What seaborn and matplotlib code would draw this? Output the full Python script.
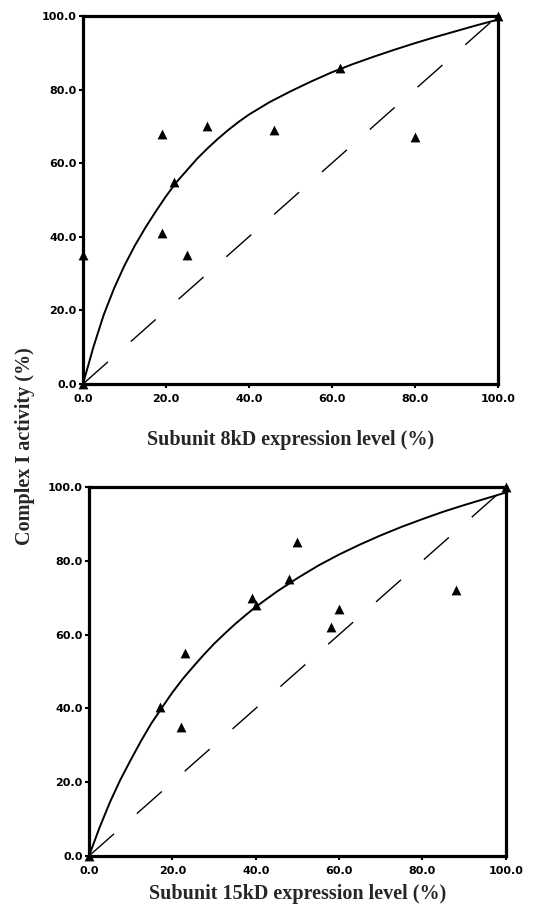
import numpy as np
import pandas as pd
import matplotlib
matplotlib.use("Agg")
import matplotlib.pyplot as plt
import seaborn as sns

# measured points, subunit 8kD
x_8kd = [0, 0, 19, 19, 22, 25, 30, 46, 62, 80, 100]
y_8kd = [0, 35, 68, 41, 55, 35, 70, 69, 86, 67, 100]

# measured points, subunit 15kD
x_15kd = [0, 17, 22, 23, 39, 40, 48, 50, 58, 60, 88, 100]
y_15kd = [0, 40.5, 35, 55, 70, 68, 75, 85, 62, 67, 72, 100]

# fitted curves
curve_x = [0, 2.5, 5, 7.5, 10, 12.5, 15, 17.5, 20, 22.5, 25, 27.5, 30,
           32.5, 35, 37.5, 40, 45, 50, 55, 60, 65, 70, 75, 80, 85, 90, 95, 100]
curve_8kd = [0, 10, 18.8, 26, 32.2, 37.6, 42.4, 46.8, 51, 54.8, 58, 61.2, 64,
             66.6, 69, 71.2, 73.2, 76.6, 79.5, 82.2, 84.7, 86.9, 88.9, 90.8,
             92.6, 94.3, 95.9, 97.5, 99]
curve_15kd = [0, 7.6, 14.5, 20.6, 26, 31.2, 36, 40.2, 44.3, 48, 51.3, 54.5, 57.5,
              60.2, 62.8, 65.2, 67.5, 71.6, 75.3, 78.7, 81.7, 84.4, 86.9, 89.2,
              91.3, 93.3, 95.1, 96.8, 98.5]

# identity line
diag = [0, 100]

ticks = [0, 20, 40, 60, 80, 100]
tick_labels = ["0.0", "20.0", "40.0", "60.0", "80.0", "100.0"]

xlabels = ["Subunit 8kD expression level (%)", "Subunit 15kD expression level (%)"]

sns.set_style("ticks")
plt.rcParams['font.family'] = ['DejaVu Sans']
serif = ["Liberation Serif", "DejaVu Serif"]

fig = plt.figure(figsize=(5.4, 9.14), dpi=100)
ax1 = fig.add_axes([0.1537, 0.5799, 0.768, 0.4026])
ax2 = fig.add_axes([0.1648, 0.0635, 0.772, 0.4037])

panels = [
    (ax1, x_8kd, y_8kd, curve_8kd, xlabels[0], 19),
    (ax2, x_15kd, y_15kd, curve_15kd, xlabels[1], 6),
]

for ax, px, py, cy, xl, pad in panels:
    df_pts = pd.DataFrame({"x": px, "y": py})
    df_fit = pd.DataFrame({"x": curve_x, "y": cy})
    df_diag = pd.DataFrame({"x": diag, "y": diag})

    sns.lineplot(data=df_diag, x="x", y="y", ax=ax, color="black",
                 linewidth=1.0, linestyle=(0, (24, 22)), estimator=None, sort=False)
    sns.lineplot(data=df_fit, x="x", y="y", ax=ax, color="black",
                 linewidth=1.4, estimator=None)
    sns.scatterplot(data=df_pts, x="x", y="y", ax=ax, color="black",
                    marker="^", s=50, linewidth=0, clip_on=False, zorder=5)

    ax.set_xlim(0, 100)
    ax.set_ylim(0, 100)
    ax.set_xticks(ticks)
    ax.set_yticks(ticks)
    ax.set_xticklabels(tick_labels, fontsize=8, fontweight="bold")
    ax.set_yticklabels(tick_labels, fontsize=8, fontweight="bold")
    ax.tick_params(direction="out", length=3, width=1.5, colors="black")
    ax.tick_params(axis="x", pad=4)
    ax.tick_params(axis="y", pad=1.5)
    for s in ax.spines.values():
        s.set_visible(True)
        s.set_linewidth(2.3)
        s.set_color("black")
    ax.set_ylabel("")
    ax.set_xlabel(xl, fontsize=14.5, fontweight="bold", family=serif, labelpad=pad)

fig.text(0.046, 1 - 446 / 914, "Complex I activity (%)", rotation=90,
         ha="center", va="center", fontsize=14.5, fontweight="bold", family=serif)

fig.savefig("out.png", dpi=100)
